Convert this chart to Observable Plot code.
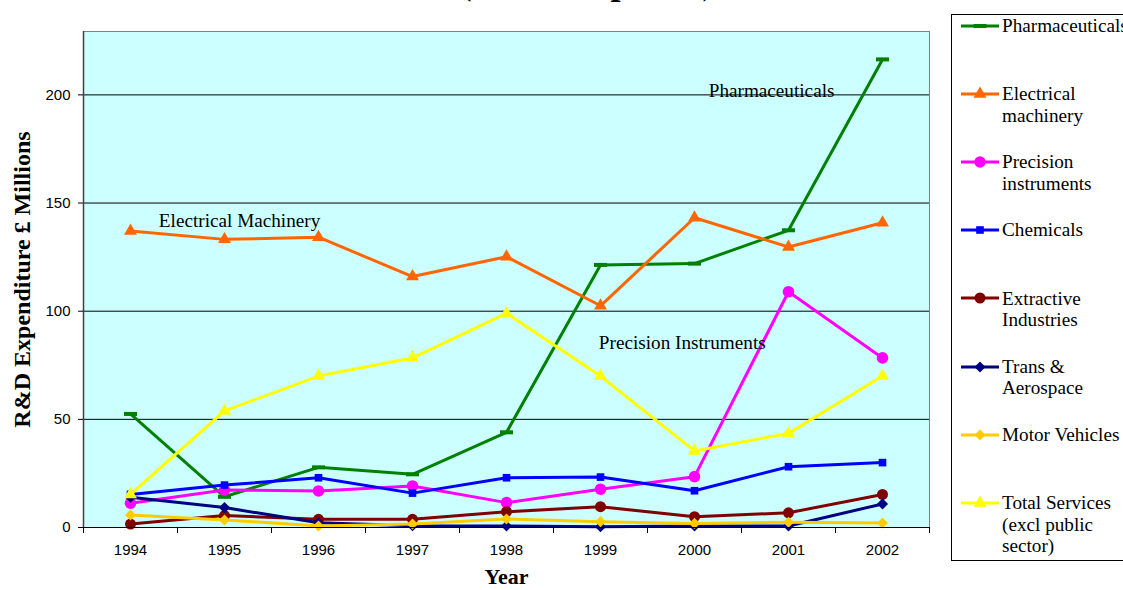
<!DOCTYPE html>
<html>
<head>
<meta charset="utf-8">
<script src="https://cdn.jsdelivr.net/npm/d3@7"></script>
<script src="https://cdn.jsdelivr.net/npm/@observablehq/plot@0.6"></script>
<style>
  html, body { margin: 0; padding: 0; background: white; }
  #page { position: relative; width: 1123px; height: 590px; overflow: hidden; background: white; }
  #title { position: absolute; left: 0; width: 1174px; top: -36px; text-align: center;
           font: bold 36px "Liberation Serif", "Times New Roman", serif; line-height: 36px; color: black; white-space: nowrap; }
  #chart { position: absolute; left: 0; top: 0; }
  #chart svg g[aria-label$="tick label"], #chart svg g[aria-label$="tick label"] text {
    font-size: 15px !important; font-family: "Liberation Sans", Arial, sans-serif !important; }
  #legend { position: absolute; left: 951px; top: 14px; width: 230px; height: 547px; box-sizing: border-box;
            border: 1px solid #000; background: white; }
  .entry-text { position: absolute; font: 19.2px "Liberation Serif", "Times New Roman", serif; line-height: 21.7px; color: black; white-space: nowrap; }
  .entry-svg { position: absolute; overflow: visible; }
</style>
</head>
<body>
<div id="page">
  <div id="chart"></div>
  <div id="title">(constant prices)</div>
  <div id="legend"></div>
</div>
<script>
// ---- data ----
const years = [1994, 1995, 1996, 1997, 1998, 1999, 2000, 2001, 2002];
const pharmaceuticals = [52.5, 14.2, 27.8, 24.6, 44.0, 121.4, 122.0, 137.4, 216.4];
const electricalMachinery = [137.1, 133.2, 134.2, 116.0, 125.2, 102.5, 143.2, 129.7, 140.9];
const precisionInstruments = [11.2, 17.3, 16.9, 19.2, 11.5, 17.7, 23.5, 109.0, 78.4];
const chemicals = [15.3, 19.6, 23.0, 15.9, 23.0, 23.3, 17.0, 28.1, 30.0];
const extractiveIndustries = [1.6, 5.5, 3.8, 3.8, 7.3, 9.6, 5.0, 6.8, 15.3];
const transAerospace = [14.0, 9.2, 2.2, 0.8, 0.7, 0.4, 0.7, 0.7, 10.9];
const motorVehicles = [5.8, 3.5, 0.7, 1.6, 3.9, 2.7, 1.9, 2.4, 2.1];
const totalServices = [15.3, 53.9, 70.0, 78.4, 99.0, 70.0, 35.4, 43.5, 70.0];

const seriesNames = ["Pharmaceuticals", "Electrical machinery", "Precision instruments", "Chemicals",
  "Extractive Industries", "Trans & Aerospace", "Motor Vehicles", "Total Services (excl public sector)"];
const legendLabels = [["Pharmaceuticals"], ["Electrical", "machinery"], ["Precision", "instruments"], ["Chemicals"],
  ["Extractive", "Industries"], ["Trans &", "Aerospace"], ["Motor Vehicles"], ["Total Services", "(excl public", "sector)"]];
const yTicks = [0, 50, 100, 150, 200];
const annotationLabels = ["Pharmaceuticals", "Electrical Machinery", "Precision Instruments"];
const annotationX = [2000.82, 1995.16, 1999.87];
const annotationY = [202, 141.9, 85.5];
const xTitle = "Year";
const yTitle = "R&D Expenditure £ Millions";

// ---- styling ----
const dash = { draw(ctx) { ctx.moveTo(-6.5, -2); ctx.lineTo(6.5, -2); ctx.lineTo(6.5, 2); ctx.lineTo(-6.5, 2); ctx.closePath(); } };
const styles = [
  { color: "#008000", symbol: dash, r: 4 },
  { color: "#FF6600", symbol: "triangle", r: 4.8 },
  { color: "#FF00FF", symbol: "circle", r: 5.8 },
  { color: "#0000FF", symbol: "square", r: 4.3 },
  { color: "#800000", symbol: "circle", r: 5.5 },
  { color: "#000080", symbol: "diamond2", r: 5 },
  { color: "#FFCC00", symbol: "diamond2", r: 5 },
  { color: "#FFFF00", symbol: "triangle", r: 4.8 }
];
const seriesValues = [pharmaceuticals, electricalMachinery, precisionInstruments, chemicals,
  extractiveIndustries, transAerospace, motorVehicles, totalServices];

const series = seriesNames.map((name, i) => ({
  name, ...styles[i],
  data: years.map((year, j) => ({ year, value: seriesValues[i][j], name }))
}));
const annotations = annotationLabels.map((label, i) => ({ label, x: annotationX[i], y: annotationY[i] }));
const boundaries = years.map(y => y - 0.5).concat([years[years.length - 1] + 0.5]);

const serif = "'Liberation Serif', 'Times New Roman', serif";
const sans = "'Liberation Sans', Arial, sans-serif";

const marks = [
  Plot.frame({ fill: "#CCFFFF" }),
  Plot.ruleY(yTicks.filter(d => d > 0), { stroke: "black", strokeWidth: 1 })
];
for (const s of series) {
  marks.push(Plot.line(s.data, { x: "year", y: "value", stroke: s.color, strokeWidth: 3, strokeLinejoin: "round" }));
  marks.push(Plot.dot(s.data, { x: "year", y: "value", symbol: s.symbol, r: s.r, fill: s.color, stroke: "none" }));
}
marks.push(
  Plot.text(annotations, { x: "x", y: "y", text: "label", fontFamily: serif, fontSize: 19.2, fill: "black" }),
  Plot.frame({ stroke: "#808080" }),
  Plot.ruleX([boundaries[0]], { stroke: "#404040", strokeWidth: 1.5 }),
  Plot.ruleY([0], { stroke: "black", strokeWidth: 1.2 }),
  Plot.axisY({ ticks: yTicks, tickSize: 5, tickPadding: 8, label: null, tickFormat: d => String(d), fontSize: 15, fontFamily: sans }),
  Plot.axisX({ ticks: boundaries, tickSize: 6, tickFormat: () => "", label: null }),
  Plot.axisX({ ticks: years, tickSize: 0, tickPadding: 17, tickFormat: d => String(d), label: null, fontSize: 15, fontFamily: sans }),
  Plot.text([xTitle], { text: d => d, frameAnchor: "bottom", dy: 56, textAnchor: "middle", fontFamily: serif, fontWeight: "bold", fontSize: 22, fill: "black" }),
  Plot.text([yTitle], { text: d => d, frameAnchor: "left", dx: -61, textAnchor: "middle", lineAnchor: "middle", rotate: -90, fontFamily: serif, fontWeight: "bold", fontSize: 24, fill: "black" })
);

const chart = Plot.plot({
  width: 940, height: 590,
  marginLeft: 83, marginRight: 11, marginTop: 31, marginBottom: 63,
  style: { fontFamily: sans, fontSize: "15px", color: "black", background: "transparent", overflow: "visible" },
  x: { type: "linear", domain: [boundaries[0], boundaries[boundaries.length - 1]] },
  y: { domain: [0, 229.3] },
  marks
});
document.getElementById("chart").appendChild(chart);

// ---- legend ----
const legend = d3.select("#legend");
const symbolTypes = { triangle: d3.symbolTriangle, circle: d3.symbolCircle, square: d3.symbolSquare, diamond2: d3.symbolDiamond2 };
series.forEach((s, i) => {
  const cy = 26 + 68.1 * i - 15; // centre of first line relative to legend box content
  const svg = legend.append("svg").attr("class", "entry-svg")
    .attr("width", 38).attr("height", 14)
    .style("left", "9px").style("top", (cy - 7) + "px");
  svg.append("line").attr("x1", 0).attr("x2", 38).attr("y1", 7).attr("y2", 7)
    .attr("stroke", s.color).attr("stroke-width", 3);
  const path = s.symbol === dash ? "M-6.5,-2H6.5V2H-6.5Z"
    : d3.symbol(symbolTypes[s.symbol], Math.PI * s.r * s.r)();
  svg.append("path").attr("d", path).attr("transform", "translate(19,7)").attr("fill", s.color);
  legend.append("div").attr("class", "entry-text")
    .style("left", "50px").style("top", (cy - 10.85) + "px")
    .html(legendLabels[i].map(t => t.replace("&", "&amp;")).join("<br>"));
});
</script>
</body>
</html>
